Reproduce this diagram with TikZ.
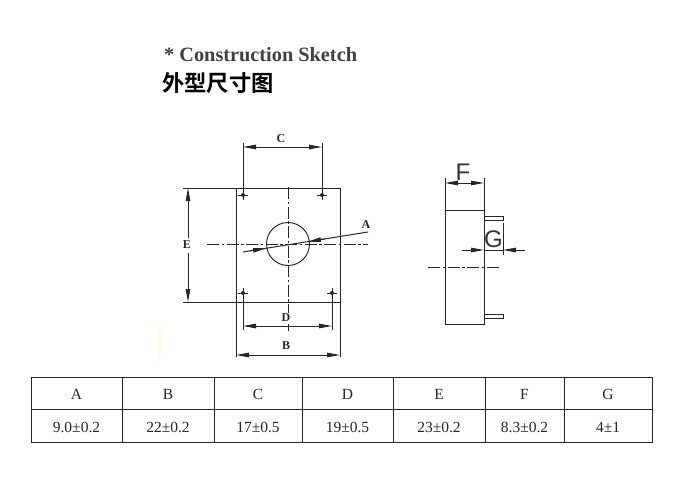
\documentclass[tikz,border=0pt]{standalone}
\usepackage{fontspec}
\setmainfont{Liberation Serif}
\newfontfamily\cjkfont{Noto Sans CJK SC}[BoldFont={* Bold}]
\newfontfamily\sansfont{Liberation Sans}
\usetikzlibrary{arrows.meta}
\tikzset{
  x=1pt,y=-1pt,
  outline/.style={draw=black!85,line width=0.95pt},
  thin line/.style={draw=black!85,line width=0.9pt},
  tipped/.style={draw=black!85,line width=1pt},
  dim/.style={tipped,{Triangle[length=13pt,width=4.5pt]}-{Triangle[length=13pt,width=4.5pt]}},
  center line/.style={draw=black!85,line width=0.9pt,dash pattern=on 12pt off 2.5pt on 2.5pt off 2.5pt},
  dimlabel/.style={inner sep=0pt,font=\fontsize{12}{12}\selectfont\bfseries,text=black!85},
  biglabel/.style={inner sep=0pt,font=\sansfont\fontsize{24}{24}\selectfont,text=black!80},
  cell/.style={inner sep=0pt,font=\fontsize{15.5}{15.5}\selectfont,text=black!85},
  gridline/.style={draw=black!85,line width=0.95pt},
}
\begin{document}
\begin{tikzpicture}
\useasboundingbox[fill=white] (0,0) rectangle (694,495);
% titles
\node[inner sep=0pt,anchor=west,font=\fontsize{20.3}{21}\selectfont\bfseries,text=black!75] (title) at (164,55) {* Construction Sketch};
\node[inner sep=0pt,anchor=west,font=\cjkfont\fontsize{22.3}{23}\selectfont\bfseries] (titlecn) at (162,83) {外型尺寸图};
% faint mark
\fill[yellow!12] (158,325) rectangle (161,355);
% front view
\coordinate (tl) at (236,188); \coordinate (tr) at (340,188);
\coordinate (bl) at (236,302); \coordinate (br) at (340,302);
\draw[outline] (tl) rectangle (br);
\node[draw=black!85,line width=0.95pt,circle,minimum size=43pt,inner sep=0pt] (hole) at (288,244) {};
\draw[center line] (207,244) -- (368,244);
\draw[center line] (288,187) -- (288,331);
% pin marks
\foreach \n/\px/\py in {p1/243/195,p2/322/195,p3/243/293,p4/332/293}{
  \coordinate (\n) at (\px,\py);
  \fill[black!85] (\n) circle (2pt);
  \draw[thin line] (\px-5,\py) -- (\px+5,\py);
  \draw[thin line] (\px,\py-5) -- (\px,\py+5);
}
% dimension C
\draw[thin line] (p1) -- (243,143);
\draw[thin line] (p2) -- (322,143);
\draw[dim] (243,147) -- (322,147);
\node[dimlabel] (lc) at (281,139) {C};
% dimension D
\draw[thin line] (p3) -- (243,330);
\draw[thin line] (p4) -- (332,330);
\draw[dim] (243,326) -- (332,326);
\node[dimlabel,fill=white,inner sep=1pt] (ld) at (286,318) {D};
% dimension B
\draw[thin line] (bl) -- (236,357);
\draw[thin line] (br) -- (340,357);
\draw[dim] (236,355) -- (340,355);
\node[dimlabel] (lb) at (286,346) {B};
% dimension E
\draw[thin line] (183,188) -- (tl);
\draw[thin line] (183,302) -- (bl);
\draw[tipped,{Triangle[length=13pt,width=4.5pt]}-] (188,188) -- (188,238);
\draw[tipped,-{Triangle[length=13pt,width=4.5pt]}] (188,253) -- (188,302);
\node[dimlabel] (le) at (187,245) {E};
% dimension A
\coordinate (a1) at (243,252); \coordinate (a2) at (368,232);
\draw[tipped] (a1) -- (a2);
\draw[tipped,-{Triangle[length=13pt,width=4.5pt]}] (250,250.9) -- (266,248.3);
\draw[tipped,-{Triangle[length=13pt,width=4.5pt]}] (325,238.9) -- (308,241.7);
\node[dimlabel] (la) at (366,225) {A};
% side view
\coordinate (s1) at (445,210); \coordinate (s2) at (484,324);
\draw[outline] (s1) rectangle (s2);
\draw[thin line] (484,216.7) rectangle (503,220);
\draw[thin line] (484,314.5) rectangle (503,318);
\draw[thin line] (s1) -- (445,178);
\draw[thin line] (484,210) -- (484,178);
\draw[dim] (445,183) -- (484,183);
\node[biglabel] (lf) at (463,172) {F};
\draw[center line] (428,267) -- (499,267);
\draw[thin line] (503,223) -- (503,255);
\draw[tipped,-{Triangle[length=13pt,width=4.5pt]}] (462,250) -- (484,250);
\draw[tipped,-{Triangle[length=13pt,width=4.5pt]}] (525,250) -- (503,250);
\draw[tipped] (484,250) -- (503,250);
\node[biglabel] (lg) at (493.5,239) {G};
% table
\draw[gridline] (31,377) rectangle (652,442);
\draw[gridline] (31,409) -- (652,409);
\foreach \x in {122,214,302,393,485,564}{\draw[gridline] (\x,377) -- (\x,442);}
\foreach \n/\x/\h/\v in {a/76.5/A/9.0±0.2,b/168/B/22±0.2,c/258/C/17±0.5,d/347.5/D/19±0.5,e/439/E/23±0.2,f/524.5/F/8.3±0.2,g/608/G/4±1}{
  \node[cell] (h\n) at (\x,394) {\h};
  \node[cell] (v\n) at (\x,427) {\v};
}
\end{tikzpicture}
\end{document}
